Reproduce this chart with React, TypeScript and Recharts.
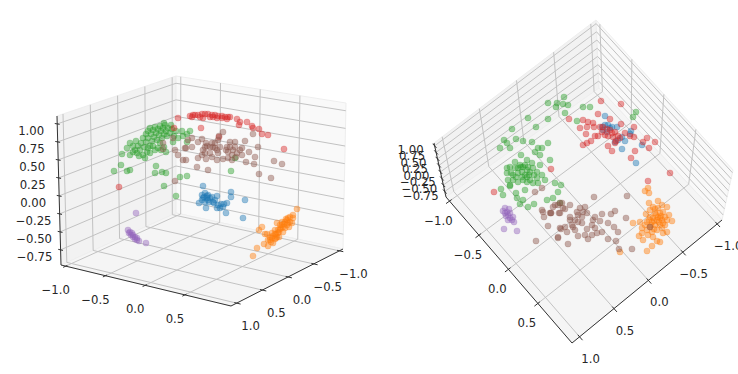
import React from 'react';
import { ScatterChart, Scatter, XAxis, YAxis } from 'recharts';

type Pt = [number, number];

const WIDTH = 738;
const HEIGHT = 374;

// tick values (the front-left edge has no 1.0 tick in the reference)
const aTicks = [-1, -0.5, 0, 0.5];
const bTicks = [-1, -0.5, 0, 0.5, 1];
const zTicks = [-0.75, -0.5, -0.25, 0, 0.25, 0.5, 0.75, 1];
const aLim: Pt = [-1.06, 1.08];
const bLim: Pt = [-1.07, 1.11];
const zLim: Pt = [-0.96, 1.11];

// left view
const leftBlue: Pt[] = [
  [203, 186], [231, 192], [231, 197], [245, 200], [226, 213], [243, 218], [199, 203], [206, 208], [217, 208], [223, 207], [227, 203],
  [221, 204], [217, 196], [215, 200], [218, 205], [202, 195], [205, 193], [208, 195], [207, 198], [203, 198], [210, 198], [205, 202],
  [209, 202], [213, 202], [202, 200], [212, 197], [207, 196], [204, 197], [208, 200], [220, 208], [224, 204], [214, 203],
];
const leftOrange: Pt[] = [
  [297, 209], [293, 215], [288, 218], [293, 218], [285, 222], [290, 222], [287, 225], [282, 225], [292, 223], [277, 223], [280, 229],
  [285, 228], [275, 230], [283, 232], [278, 233], [272, 233], [265, 234], [262, 227], [259, 230], [277, 237], [272, 238], [268, 240],
  [273, 243], [264, 244], [268, 246], [257, 248], [253, 256], [270, 237], [282, 222], [287, 220], [288, 223], [279, 237], [275, 239],
  [271, 242], [283, 227], [289, 227], [276, 234], [280, 225], [267, 234], [284, 224], [281, 228], [278, 230], [275, 234], [273, 236],
  [286, 219], [290, 217], [279, 232], [276, 238], [270, 240],
];
const leftGreen: Pt[] = [
  [114, 171], [121, 165], [122, 154], [127, 171], [130, 170], [156, 166], [155, 173], [162, 172], [166, 173], [164, 186], [176, 196],
  [180, 177], [187, 176], [231, 171], [235, 158], [182, 131], [164, 123], [171, 125], [127, 148], [130, 143], [133, 146], [136, 141],
  [135, 150], [138, 146], [140, 150], [141, 143], [143, 138], [144, 147], [146, 134], [146, 142], [148, 131], [148, 138], [150, 146],
  [150, 128], [151, 134], [152, 141], [153, 130], [154, 137], [155, 127], [156, 133], [157, 140], [158, 129], [159, 135], [160, 126],
  [161, 131], [162, 138], [163, 128], [164, 134], [165, 125], [166, 131], [167, 136], [168, 128], [170, 133], [172, 129], [174, 136],
  [147, 152], [143, 155], [139, 156], [145, 158], [150, 153], [155, 150], [158, 148], [161, 150], [164, 147], [166, 152], [160, 143],
  [153, 146], [148, 148], [133, 152], [130, 155], [137, 153], [173, 142], [176, 131], [178, 138], [183, 136], [187, 134], [190, 131],
  [187, 142],
];
const leftRed: Pt[] = [
  [190, 116], [195, 115], [198, 115], [202, 114], [205, 114], [208, 114], [212, 115], [215, 115], [218, 116], [222, 116], [225, 117],
  [228, 117], [230, 117], [203, 118], [217, 118], [227, 119], [237, 119], [240, 122], [247, 122], [239, 125], [252, 126], [253, 128],
  [259, 129], [262, 134], [268, 135], [201, 128], [219, 137], [284, 149], [193, 115], [200, 117], [210, 117], [213, 117], [222, 118],
  [192, 117], [178, 118], [174, 128], [119, 187],
];
const leftPurple: Pt[] = [
  [136, 213], [128, 230], [146, 243], [139, 241], [130, 232], [132, 233], [133, 235], [135, 237], [137, 238], [131, 235], [133, 237],
  [129, 233], [135, 239], [137, 240],
];
const leftBrown: Pt[] = [
  [223, 132], [253, 134], [219, 136], [258, 147], [245, 141], [235, 142], [230, 142], [218, 140], [215, 143], [202, 139], [192, 138],
  [198, 142], [188, 140], [192, 147], [186, 148], [205, 147], [206, 143], [212, 143], [213, 147], [220, 147], [217, 150], [210, 153],
  [205, 153], [202, 155], [198, 158], [206, 159], [217, 160], [212, 157], [226, 150], [230, 147], [235, 147], [242, 148], [249, 152],
  [242, 155], [237, 153], [232, 155], [228, 158], [223, 159], [232, 160], [246, 162], [254, 164], [255, 157], [274, 161], [282, 164],
  [259, 174], [271, 178], [197, 167], [208, 170], [186, 160], [228, 152], [233, 150], [218, 153], [203, 150], [207, 146], [215, 148],
  [210, 147], [227, 147], [236, 157], [240, 150], [163, 143], [173, 138], [175, 150], [178, 155], [185, 148], [175, 181], [183, 160],
  [163, 149],
];

// right view
const rightBlue: Pt[] = [
  [605, 116], [605, 125], [608, 125], [610, 128], [603, 130], [617, 127], [631, 131], [622, 137], [625, 141], [642, 145], [622, 149],
  [636, 163], [615, 142], [630, 134], [607, 132], [602, 127], [618, 140], [612, 127],
];
const rightOrange: Pt[] = [
  [648, 188], [645, 191], [649, 193], [649, 203], [658, 201], [662, 205], [667, 207], [633, 223], [640, 222], [646, 214], [672, 221],
  [669, 215], [642, 228], [639, 236], [643, 240], [652, 246], [647, 251], [620, 252], [660, 242], [657, 241], [667, 232], [663, 233],
  [650, 210], [653, 207], [658, 208], [663, 212], [665, 217], [660, 213], [655, 213], [650, 217], [647, 222], [652, 222], [657, 220],
  [662, 220], [667, 220], [665, 225], [660, 225], [655, 225], [650, 227], [647, 230], [652, 232], [657, 230], [662, 228], [645, 225],
  [653, 218], [658, 217], [663, 223], [648, 235], [653, 237], [642, 233], [655, 209], [660, 218], [656, 215], [651, 225], [654, 229],
  [659, 222], [649, 220], [654, 221], [661, 216],
];
const rightGreen: Pt[] = [
  [528, 118], [536, 127], [512, 129], [504, 140], [507, 143], [516, 139], [523, 141], [532, 142], [500, 148], [510, 148], [548, 143],
  [538, 148], [542, 148], [535, 152], [540, 155], [521, 155], [515, 162], [550, 160], [510, 167], [507, 173], [515, 168], [520, 165],
  [527, 160], [528, 167], [522, 172], [525, 175], [518, 173], [513, 175], [530, 172], [533, 168], [537, 172], [540, 165], [542, 175],
  [545, 180], [523, 180], [530, 180], [533, 183], [518, 182], [513, 180], [508, 180], [510, 185], [527, 170], [523, 167], [532, 163],
  [522, 177], [516, 177], [527, 177], [537, 178], [538, 183], [507, 168], [511, 173], [534, 175], [529, 175], [521, 167], [518, 168],
  [525, 165], [527, 182], [501, 189], [503, 195], [510, 186], [516, 193], [517, 198], [525, 190], [523, 200], [520, 204], [528, 207],
  [534, 204], [547, 200], [553, 198], [555, 183], [561, 185], [564, 97], [557, 103], [548, 103], [556, 107], [563, 104], [568, 105],
  [583, 107], [590, 107], [565, 113], [548, 119], [577, 121], [636, 112], [633, 117], [558, 192], [560, 203],
];
const rightRed: Pt[] = [
  [601, 101], [621, 104], [598, 114], [569, 119], [583, 120], [588, 122], [593, 123], [580, 128], [587, 127], [586, 134], [594, 127],
  [595, 136], [598, 136], [591, 141], [587, 143], [583, 145], [603, 127], [610, 119], [621, 124], [634, 127], [625, 133], [634, 137],
  [630, 136], [647, 138], [643, 142], [655, 142], [649, 148], [635, 151], [631, 158], [608, 146], [612, 151], [602, 132], [605, 135],
  [610, 130], [615, 132], [613, 137], [618, 136], [608, 136], [616, 141], [620, 138], [607, 129], [612, 133], [600, 127], [615, 143],
  [551, 169], [494, 192], [648, 181], [670, 173],
];
const rightPurple: Pt[] = [
  [504, 229], [517, 231], [505, 208], [507, 212], [508, 215], [510, 218], [512, 220], [514, 222], [506, 216], [510, 213], [513, 217],
  [503, 211], [508, 220], [505, 213], [509, 209],
];
const rightBrown: Pt[] = [
  [594, 197], [627, 196], [570, 205], [560, 203], [585, 207], [555, 205], [565, 209], [560, 213], [551, 213], [570, 217], [577, 212],
  [583, 212], [582, 217], [575, 220], [570, 220], [578, 222], [582, 223], [595, 217], [602, 214], [611, 214], [615, 211], [626, 218],
  [600, 221], [608, 223], [614, 227], [618, 232], [592, 225], [595, 228], [602, 232], [592, 235], [585, 235], [588, 239], [578, 236],
  [567, 232], [560, 228], [565, 227], [573, 227], [575, 230], [558, 238], [568, 244], [608, 239], [616, 241], [619, 249], [632, 249],
  [650, 227], [593, 220], [587, 213], [580, 208], [587, 229], [597, 233], [578, 215], [572, 225], [543, 212], [551, 213], [559, 213],
  [544, 217], [548, 226], [561, 229], [558, 237], [536, 241], [535, 192], [542, 188], [558, 205], [553, 207], [562, 203], [563, 208],
  [542, 210], [550, 213],
];

const C0 = '#1f77b4';
const C1 = '#ff7f0e';
const C2 = '#2ca02c';
const C3 = '#d62728';
const C4 = '#9467bd';
const C5 = '#8c564b';

const clouds: [string, string, Pt[]][] = [
  ['l0', C0, leftBlue], ['l1', C1, leftOrange], ['l2', C2, leftGreen], ['l3', C3, leftRed], ['l4', C4, leftPurple], ['l5', C5, leftBrown],
  ['r0', C0, rightBlue], ['r1', C1, rightOrange], ['r2', C2, rightGreen], ['r3', C3, rightRed], ['r4', C4, rightPurple], ['r5', C5, rightBrown],
];

// where the box corners land in each view
interface View {
  id: string;
  back: Pt; right: Pt; left: Pt; near: Pt;
  backTop: Pt; rightTop: Pt; leftTop: Pt; nearTop: Pt;
  aOffset: Pt; bOffset: Pt; zOffset: Pt;
}

const views: View[] = [
  {
    id: 'L',
    back: [176, 213], right: [343, 249], left: [61, 265], near: [231, 306],
    backTop: [176, 76], rightTop: [346, 103], leftTop: [57, 116], nearTop: [231, 145],
    aOffset: [-10, 24], bOffset: [14, 23], zOffset: [-26, 7],
  },
  {
    id: 'R',
    back: [599, 88], right: [722, 220], left: [446, 197], near: [572, 343],
    backTop: [596, 20], rightTop: [733, 170], leftTop: [434, 143], nearTop: [568, 290],
    aOffset: [-11, 20], bOffset: [11, 22], zOffset: [-24, 4],
  },
];

const frac = (v: number, lim: Pt) => (v - lim[0]) / (lim[1] - lim[0]);

function project(view: View, a: number, b: number, z: number) {
  const u = frac(a, aLim);
  const v = frac(b, bLim);
  const w = frac(z, zLim);
  const at = (i: 0 | 1) => {
    const low = view.back[i] * (1 - u) * (1 - v) + view.right[i] * u * (1 - v) + view.left[i] * (1 - u) * v + view.near[i] * u * v;
    const high = view.backTop[i] * (1 - u) * (1 - v) + view.rightTop[i] * u * (1 - v) + view.leftTop[i] * (1 - u) * v + view.nearTop[i] * u * v;
    return low * (1 - w) + high * w;
  };
  return { x: at(0), y: at(1) };
}

const rows = (pts: Pt[]) => pts.map(([x, y]) => ({ x, y }));

function segment(id: string, from: { x: number; y: number }, to: { x: number; y: number }, stroke: string, width: number) {
  return (
    <Scatter
      key={id}
      data={[from, to]}
      dataKey="y"
      shape={() => null}
      line={{ stroke, strokeWidth: width, fill: 'none' }}
      isAnimationActive={false}
    />
  );
}

function pane(id: string, corners: Pt[], fill: string) {
  return (
    <Scatter
      key={id}
      data={rows(corners)}
      dataKey="y"
      shape={() => null}
      line={{ stroke: '#eeeeee', strokeWidth: 1, fill }}
      isAnimationActive={false}
    />
  );
}

const GRID = '#c2c2c2';
const AXIS = '#333333';

function wireframe(view: View) {
  const [a0, a1] = aLim;
  const [b0, b1] = bLim;
  const [z0, z1] = zLim;
  const p = (a: number, b: number, z: number) => project(view, a, b, z);
  const out: React.ReactNode[] = [
    pane(view.id + 'wallA', [view.left, view.back, view.backTop, view.leftTop, view.left], '#f2f2f2'),
    pane(view.id + 'wallB', [view.back, view.right, view.rightTop, view.backTop, view.back], '#f9f9f9'),
    pane(view.id + 'floor', [view.left, view.near, view.right, view.back, view.left], '#f5f5f5'),
  ];
  aTicks.forEach((a) => {
    out.push(segment(`${view.id}fa${a}`, p(a, b0, z0), p(a, b1, z0), GRID, 1));
    out.push(segment(`${view.id}wa${a}`, p(a, b0, z0), p(a, b0, z1), GRID, 1));
    out.push(segment(`${view.id}ta${a}`, p(a, b1 - 0.03, z0), p(a, b1 + 0.05, z0), AXIS, 1));
  });
  bTicks.forEach((b) => {
    out.push(segment(`${view.id}fb${b}`, p(a0, b, z0), p(a1, b, z0), GRID, 1));
    out.push(segment(`${view.id}wb${b}`, p(a0, b, z0), p(a0, b, z1), GRID, 1));
    out.push(segment(`${view.id}tb${b}`, p(a1 - 0.03, b, z0), p(a1 + 0.05, b, z0), AXIS, 1));
  });
  zTicks.forEach((z) => {
    out.push(segment(`${view.id}za${z}`, p(a0, b0, z), p(a0, b1, z), GRID, 1));
    out.push(segment(`${view.id}zb${z}`, p(a0, b0, z), p(a1, b0, z), GRID, 1));
    out.push(segment(`${view.id}tz${z}`, p(a0 - 0.03, b1, z), p(a0 + 0.03, b1, z), AXIS, 1));
  });
  out.push(segment(view.id + 'axisA', p(a0, b1, z0), p(a1, b1, z0), AXIS, 1));
  out.push(segment(view.id + 'axisB', p(a1, b0, z0), p(a1, b1, z0), AXIS, 1));
  out.push(segment(view.id + 'axisZ', p(a0, b1, z0), p(a0, b1, z1), AXIS, 1));
  return out;
}

const fmt1 = (v: number) => v.toFixed(1).replace('-', '\u2212');
const fmt2 = (v: number) => v.toFixed(2).replace('-', '\u2212');

function tickRows(view: View) {
  const [a0, a1] = aLim;
  const [b0, b1] = bLim;
  const [z0] = zLim;
  const shift = (pos: { x: number; y: number }, off: Pt, text: string) => ({ x: pos.x + off[0], y: pos.y + off[1], text });
  return [
    ...aTicks.map((a) => shift(project(view, a, b1, z0), view.aOffset, fmt1(a))),
    ...bTicks.map((b) => shift(project(view, a1, b, z0), view.bOffset, fmt1(b))),
    ...zTicks.map((z) => shift(project(view, a0, b1, z), view.zOffset, fmt2(z))),
  ];
}

const TickText = (props: any) => (
  <text
    x={props.cx}
    y={props.cy}
    textAnchor="middle"
    dominantBaseline="central"
    fontFamily="DejaVu Sans"
    fontSize={11.7}
    fill="#262626"
  >
    {props.payload.text}
  </text>
);

const Dot = (props: any) => (
  <circle
    cx={props.cx}
    cy={props.cy}
    r={3.1}
    fill={props.fill}
    fillOpacity={0.45}
    stroke={props.fill}
    strokeOpacity={0.25}
    strokeWidth={0.8}
  />
);

export default function App() {
  return (
    <div style={{ position: 'absolute', left: 0, top: 0, width: WIDTH, height: HEIGHT, background: '#fff' }}>
      <ScatterChart width={WIDTH} height={HEIGHT} margin={{ top: 0, right: 0, bottom: 0, left: 0 }}>
        <XAxis type="number" dataKey="x" domain={[0, WIDTH]} hide />
        <YAxis type="number" dataKey="y" domain={[0, HEIGHT]} reversed hide />
        {views.flatMap((view) => wireframe(view))}
        {clouds.map(([id, color, pts]) => (
          <Scatter key={id} data={rows(pts)} fill={color} shape={Dot} isAnimationActive={false} />
        ))}
        {views.map((view) => (
          <Scatter key={view.id + 'labels'} data={tickRows(view)} shape={TickText} isAnimationActive={false} />
        ))}
      </ScatterChart>
    </div>
  );
}
